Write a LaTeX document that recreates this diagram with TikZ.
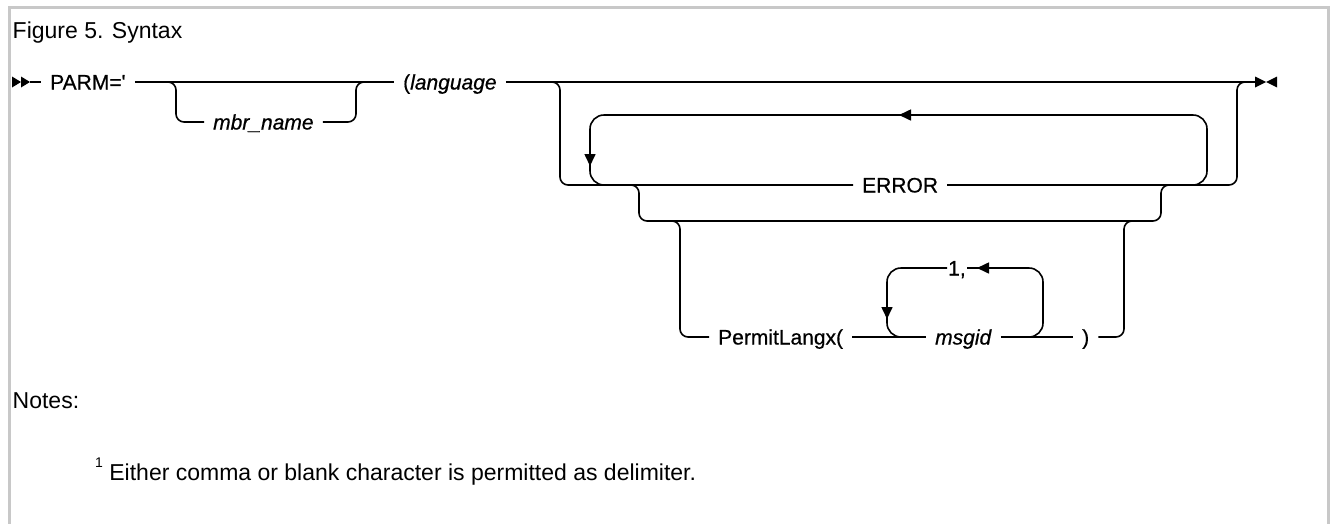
\documentclass[tikz,border=0pt]{standalone}
\usepackage{fontspec}
\setmainfont{Liberation Sans}
\newfontfamily\railfont[FakeBold=0.6]{Liberation Sans}
\usepackage{tikz}
\usetikzlibrary{arrows.meta}
\definecolor{framegray}{HTML}{C8C8C8}
\tikzset{>=stealth}
\tikzset{
  rail/.style={line width=1.6pt},
  looprail/.style={rail, rounded corners=14pt},
  railtip/.style={-{Triangle[length=12pt,width=11pt]}},
  lbl/.style={inner xsep=9pt, inner ysep=0pt, text height=15pt, text depth=0pt,
    anchor=west, font=\railfont\fontsize{21}{25}\selectfont},
  notetext/.style={inner sep=0pt, anchor=base west, font=\fontsize{23}{28}\selectfont}
}

\begin{document}
\begin{tikzpicture}[x=1pt,y=-1pt]
        \useasboundingbox (0,0) rectangle (1331,523);
        \draw[framegray, line width=3pt] (9,530) -- (9,7) -- (1328.5,7) -- (1328.5,530);
        \node[notetext] (caption) at (12.5,38) {Figure 5. Syntax};
        \node[notetext] (notes) at (12.5,408) {Notes:};
        \node[notetext] (footnote) at (95,480) {\raisebox{13pt}{\fontsize{14}{14}\selectfont 1} Either comma or blank character is permitted as delimiter.};
        % main line
        \fill (12,76.5) -- (21,82) -- (12,87.5) -- cycle;
        \fill (21,76.5) -- (30,82) -- (21,87.5) -- cycle;
        \node[lbl] (parm) at (41,82) {PARM=\textquotesingle};
        \node[lbl] (lang) at (394,82) {(\textit{language}};
        \node[lbl] (mbr) at (204,122) {\textit{mbr\_name}};
        \coordinate (stop) at (1255,82);
        \draw[rail] (30,82) -- (parm.west);
        \draw[rail] (parm.east) -- (lang.west);
        \draw[rail, rounded corners=8pt] (160,82) -| (176,122) -- (mbr.west);
        \draw[rail, rounded corners=8pt] (mbr.east) -| (356,82) -- (370,82);
        \draw[rail] (lang.east) -- (stop);
        \fill (1255,76.5) -- (1266,82) -- (1255,87.5) -- cycle;
        \fill (1277,76.5) -- (1266,82) -- (1277,87.5) -- cycle;
        % ERROR and its repeat loop
        \node[lbl] (err) at (853,185) {ERROR};
        \draw[rail, rounded corners=8pt] (540,82) -| (560,185) -- (err.west);
        \draw[rail, rounded corners=8pt] (err.east) -| (1237,82) -- (1250,82);
        \draw[looprail, railtip] (1185,185) -| (1207,115) -- (899,115);
        \draw[looprail, railtip] (910,115) -| (590,166);
        \draw[looprail] (590,150) |- (615,185);
        \draw[rail, rounded corners=8pt] (625,185) -| (639,221) -| (1161,185) -- (1175,185);
        % PermitLangx branch
        \node[lbl] (perm) at (709,337) {PermitLangx(};
        \node[lbl] (msg) at (926,337) {\textit{msgid}};
        \node[lbl] (rpar) at (1073,337) {)};
        \node[lbl, inner xsep=1pt] (sep) at (947,268) {1,};
        \draw[rail, rounded corners=8pt] (665,221) -| (680,337) -- (perm.west);
        \draw[rail] (perm.east) -- (msg.west);
        \draw[rail] (msg.east) -- (rpar.west);
        \draw[rail, rounded corners=8pt] (rpar.east) -| (1124,221) -- (1140,221);
        \draw[looprail, railtip] (1020,337) -| (1043,268) -- (977,268);
        \draw[rail] (985,268) -- (sep.east);
        \draw[looprail, railtip] (sep.west) -| (887,319);
        \draw[looprail] (887,305) |- (910,337);
      \end{tikzpicture}
\end{document}
